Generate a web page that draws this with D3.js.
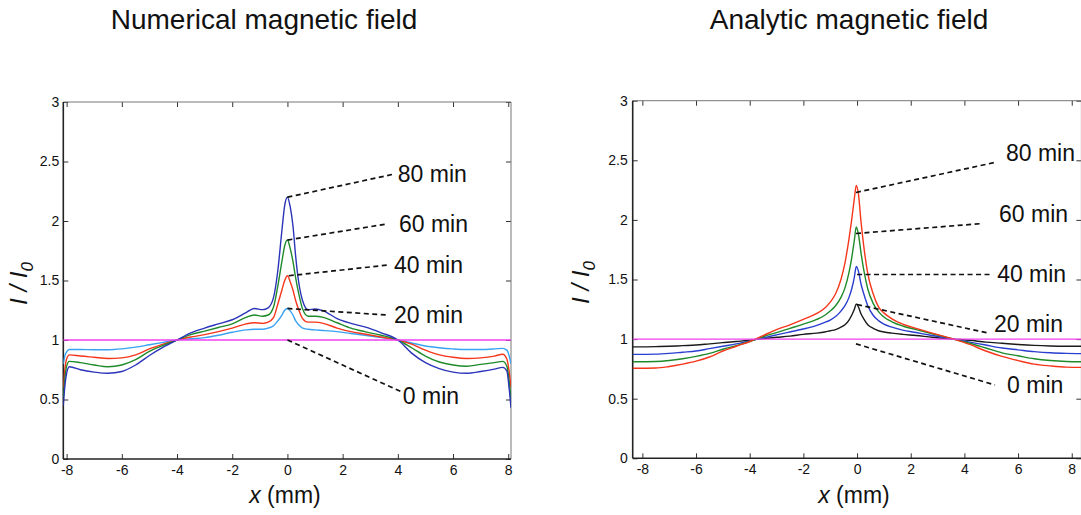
<!DOCTYPE html>
<html>
<head>
<meta charset="utf-8">
<script src="https://cdn.jsdelivr.net/npm/d3@7"></script>
<style>
  html, body { margin: 0; padding: 0; background: #fff; }
  svg { display: block; font-family: "Liberation Sans", Arial, Helvetica, sans-serif; }
  .tick text { font-size: 14px; font-family: "Liberation Sans", Arial, sans-serif; fill: #111; }
</style>
</head>
<body>
<svg id="chart" width="1081" height="515"></svg>
<script>
// ---------- Numerical magnetic field: normalised intensity I/I0 vs x (mm) ----------
const numX = [-8.12, -8.06, -8.0, -7.9, -7.5, -7.0, -6.5, -6.0, -5.5, -5.0, -4.5, -4.0, -3.5, -3.0, -2.5, -2.0,
  -1.5, -1.2, -0.9, -0.7, -0.5, -0.35, -0.2, -0.1, 0, 0.1, 0.2, 0.3, 0.4, 0.55, 0.75, 1.0, 1.3, 1.8, 2.3, 2.8,
  3.4, 4.0, 4.5, 5.0, 5.5, 6.0, 6.5, 7.0, 7.5, 7.8, 7.95, 8.03, 8.1];
const num20 = [0.80, 0.87, 0.90, 0.92, 0.92, 0.918, 0.918, 0.925, 0.94, 0.96, 0.98, 1.0, 1.01, 1.02, 1.04, 1.065,
  1.085, 1.09, 1.09, 1.10, 1.12, 1.16, 1.21, 1.25, 1.265, 1.245, 1.21, 1.16, 1.13, 1.10, 1.09, 1.085, 1.08, 1.07,
  1.055, 1.04, 1.02, 1.0, 0.975, 0.95, 0.935, 0.925, 0.92, 0.92, 0.925, 0.93, 0.915, 0.87, 0.80];
const num40 = [0.60, 0.76, 0.84, 0.875, 0.865, 0.855, 0.845, 0.85, 0.875, 0.925, 0.965, 1.0, 1.025, 1.045, 1.07, 1.10,
  1.135, 1.145, 1.14, 1.15, 1.19, 1.30, 1.42, 1.50, 1.54, 1.49, 1.42, 1.33, 1.26, 1.18, 1.15, 1.15, 1.14, 1.10,
  1.07, 1.05, 1.025, 1.0, 0.965, 0.915, 0.875, 0.855, 0.845, 0.85, 0.865, 0.88, 0.84, 0.74, 0.60];
const num60 = [0.52, 0.68, 0.78, 0.82, 0.81, 0.79, 0.775, 0.79, 0.835, 0.905, 0.955, 1.0, 1.045, 1.075, 1.105, 1.135,
  1.19, 1.21, 1.20, 1.21, 1.28, 1.45, 1.66, 1.79, 1.84, 1.77, 1.66, 1.52, 1.40, 1.26, 1.20, 1.20, 1.19, 1.145,
  1.10, 1.07, 1.04, 1.0, 0.935, 0.865, 0.815, 0.79, 0.78, 0.795, 0.81, 0.82, 0.78, 0.66, 0.50];
const num80 = [0.45, 0.62, 0.72, 0.775, 0.75, 0.73, 0.72, 0.735, 0.79, 0.87, 0.94, 1.0, 1.06, 1.10, 1.135, 1.17,
  1.23, 1.265, 1.255, 1.27, 1.36, 1.58, 1.92, 2.13, 2.20, 2.12, 1.96, 1.70, 1.50, 1.33, 1.255, 1.26, 1.245, 1.18,
  1.14, 1.11, 1.06, 1.0, 0.89, 0.81, 0.76, 0.73, 0.72, 0.735, 0.755, 0.77, 0.74, 0.60, 0.43];
const num0X = [-8.12, 8.1];
const num0 = [1.0, 1.0];

// ---------- Analytic magnetic field ----------
const anaX = [-8.36, -7.5, -7.0, -6.5, -6.0, -5.5, -5.0, -4.5, -4.0, -3.5, -3.0, -2.5, -2.0, -1.5, -1.2, -1.0,
  -0.8, -0.6, -0.45, -0.3, -0.2, -0.1, -0.03, 0.05, 0.15, 0.25, 0.4, 0.6, 0.8, 1.0, 1.3, 1.7, 2.2, 2.8, 3.6,
  4.2, 4.8, 5.4, 6.0, 6.6, 7.2, 7.8, 8.36];
const ana20 = [0.935, 0.937, 0.94, 0.945, 0.95, 0.96, 0.97, 0.98, 0.99, 1.005, 1.015, 1.025, 1.04, 1.05, 1.06, 1.07,
  1.08, 1.10, 1.12, 1.16, 1.20, 1.25, 1.295, 1.27, 1.21, 1.17, 1.12, 1.09, 1.07, 1.06, 1.05, 1.04, 1.03, 1.015, 1.0,
  0.99, 0.975, 0.965, 0.955, 0.947, 0.942, 0.94, 0.94];
const ana40 = [0.872, 0.874, 0.88, 0.89, 0.90, 0.92, 0.94, 0.96, 0.985, 1.01, 1.035, 1.06, 1.085, 1.115, 1.14, 1.16,
  1.19, 1.235, 1.28, 1.35, 1.42, 1.52, 1.61, 1.57, 1.46, 1.38, 1.28, 1.20, 1.155, 1.125, 1.10, 1.075, 1.055, 1.03, 1.0,
  0.975, 0.95, 0.925, 0.91, 0.895, 0.885, 0.88, 0.878];
const ana60 = [0.81, 0.812, 0.82, 0.835, 0.855, 0.88, 0.915, 0.945, 0.98, 1.02, 1.055, 1.09, 1.125, 1.165, 1.20, 1.235,
  1.28, 1.35, 1.43, 1.56, 1.68, 1.83, 1.94, 1.88, 1.72, 1.58, 1.42, 1.30, 1.23, 1.185, 1.145, 1.11, 1.08, 1.045, 1.0,
  0.965, 0.925, 0.885, 0.86, 0.835, 0.82, 0.812, 0.81];
const ana80 = [0.755, 0.757, 0.77, 0.79, 0.815, 0.85, 0.90, 0.94, 0.98, 1.03, 1.08, 1.12, 1.165, 1.215, 1.26, 1.31,
  1.38, 1.50, 1.64, 1.84, 2.00, 2.18, 2.29, 2.22, 1.98, 1.78, 1.55, 1.38, 1.27, 1.22, 1.17, 1.125, 1.09, 1.05, 1.0,
  0.955, 0.90, 0.855, 0.82, 0.79, 0.775, 0.765, 0.763];
const ana0X = [-8.36, 8.36];
const ana0 = [1.0, 1.0];

// Axis ticks
const xTicks = [-8, -6, -4, -2, 0, 2, 4, 6, 8];
const yTicks = [0, 0.5, 1, 1.5, 2, 2.5, 3];

// Time labels with their leader lines (data coordinates: start, end, text anchor)
const numNotes = [
  { label: "80 min", from: [0, 2.20], to: [3.82, 2.392], at: [4.0, 2.328] },
  { label: "60 min", from: [0, 1.84], to: [3.6, 1.975], at: [4.04, 1.908] },
  { label: "40 min", from: [0.05, 1.54], to: [3.64, 1.63], at: [3.86, 1.563] },
  { label: "20 min", from: [0, 1.265], to: [3.6, 1.21], at: [3.86, 1.143] },
  { label: "0 min", from: [0, 1.0], to: [4.15, 0.563], at: [4.18, 0.462] }
];
const anaNotes = [
  { label: "80 min", from: [-0.04, 2.23], to: [5.22, 2.486], at: [5.55, 2.494] },
  { label: "60 min", from: [-0.04, 1.886], to: [4.69, 1.97], at: [5.29, 1.98] },
  { label: "40 min", from: [0, 1.542], to: [5.07, 1.542], at: [5.22, 1.475] },
  { label: "20 min", from: [0, 1.29], to: [4.88, 1.051], at: [5.10, 1.06] },
  { label: "0 min", from: [-0.04, 0.96], to: [5.14, 0.615], at: [5.59, 0.548] }
];

const svg = d3.select("#chart");
const defs = svg.append("defs");

function drawPanel(p) {
  const x = d3.scaleLinear().domain(p.xDomain).range(p.xRange);
  const y = d3.scaleLinear().domain([0, 3]).range(p.yRange);
  const [x0, x1] = p.xRange;
  const [yb, yt] = p.yRange;
  const g = svg.append("g");

  defs.append("clipPath").attr("id", p.id + "-clip")
    .append("rect").attr("x", x0).attr("y", yt).attr("width", x1 - x0).attr("height", yb - yt);

  // Title
  g.append("text").attr("x", p.titleX).attr("y", 29).attr("text-anchor", "middle")
    .attr("font-size", 28).attr("fill", "#111").text(p.title);

  // Axes (ticks pointing inward on all four sides)
  const styleAxis = sel => {
    sel.attr("font-size", null).attr("font-family", null);
    sel.select(".domain").remove();
    sel.selectAll(".tick line").attr("stroke", "#333").attr("stroke-width", 1);
    sel.selectAll(".tick text").style("font-size", "14px").style("fill", "#111");
  };
  g.append("g").attr("transform", `translate(0,${yb})`)
    .call(d3.axisBottom(x).tickValues(xTicks).tickSizeInner(-5).tickSizeOuter(0).tickPadding(6)
      .tickFormat(d => String(d))).call(styleAxis);
  g.append("g").attr("transform", `translate(0,${yt})`)
    .call(d3.axisTop(x).tickValues(xTicks).tickSizeInner(-5).tickSizeOuter(0).tickFormat("")).call(styleAxis);
  g.append("g").attr("transform", `translate(${x0},0)`)
    .call(d3.axisLeft(y).tickValues(yTicks).tickSizeInner(-5).tickSizeOuter(0).tickPadding(p.yPad)
      .tickFormat(d => String(d))).call(styleAxis);
  g.append("g").attr("transform", `translate(${x1},0)`)
    .call(d3.axisRight(y).tickValues(yTicks).tickSizeInner(-5).tickSizeOuter(0).tickFormat("")).call(styleAxis);

  // Frame: heavier left/bottom, lighter top/right
  g.append("line").attr("x1", x0).attr("x2", x1).attr("y1", yt).attr("y2", yt).attr("stroke", "#777").attr("stroke-width", 1);
  g.append("line").attr("x1", x1).attr("x2", x1).attr("y1", yt).attr("y2", yb).attr("stroke", "#777").attr("stroke-width", 1);
  g.append("line").attr("x1", x0).attr("x2", x0).attr("y1", yt).attr("y2", yb).attr("stroke", "#222").attr("stroke-width", 1.6);
  g.append("line").attr("x1", x0).attr("x2", x1).attr("y1", yb).attr("y2", yb).attr("stroke", "#222").attr("stroke-width", 1.6);

  // Curves
  const line = d3.line().x(d => x(d[0])).y(d => y(d[1])).curve(d3.curveMonotoneX);
  const plot = g.append("g").attr("clip-path", `url(#${p.id}-clip)`);
  p.series.forEach(s => {
    plot.append("path").datum(d3.zip(s.xs, s.ys)).attr("d", line)
      .attr("fill", "none").attr("stroke", s.color).attr("stroke-width", 1.4)
      .attr("stroke-linejoin", "round");
  });

  // Leader lines and time labels
  p.notes.forEach(n => {
    g.append("line")
      .attr("x1", x(n.from[0])).attr("y1", y(n.from[1]))
      .attr("x2", x(n.to[0])).attr("y2", y(n.to[1]))
      .attr("stroke", "#111").attr("stroke-width", 1.7).attr("stroke-dasharray", "5,3.5");
    g.append("text").attr("x", x(n.at[0])).attr("y", y(n.at[1]))
      .attr("font-size", 23).attr("fill", "#111").text(n.label);
  });

  // Y label: I / I0
  const yl = g.append("text")
    .attr("transform", `translate(${p.yLabelX},${(yb + yt) / 2 + 3}) rotate(-90)`)
    .attr("text-anchor", "middle").attr("font-size", 24).attr("font-style", "italic").attr("fill", "#111");
  yl.append("tspan").text("I / I");
  yl.append("tspan").attr("font-size", 17).attr("dy", 6).text("0");

  // X label: x (mm)
  const xl = g.append("text").attr("x", p.xLabelX).attr("y", 503).attr("text-anchor", "middle")
    .attr("font-size", 23).attr("fill", "#111");
  xl.append("tspan").attr("font-style", "italic").text("x");
  xl.append("tspan").text(" (mm)");
}

drawPanel({
  id: "numerical",
  title: "Numerical magnetic field",
  titleX: 264,
  xDomain: [-8.12, 8.1], xRange: [63.3, 511],
  yRange: [459, 102],
  yPad: 4,
  yLabelX: 27, xLabelX: 285,
  series: [
    { xs: numX, ys: num20, color: "#3aa2f2" },
    { xs: numX, ys: num40, color: "#f5361b" },
    { xs: numX, ys: num60, color: "#1f8a2a" },
    { xs: numX, ys: num80, color: "#2a34b8" },
    { xs: num0X, ys: num0, color: "#f23ff2" }
  ],
  notes: numNotes
});

drawPanel({
  id: "analytic",
  title: "Analytic magnetic field",
  titleX: 849,
  xDomain: [-8.36, 8.36], xRange: [632.7, 1081.4],
  yRange: [458.3, 100.7],
  yPad: 5,
  yLabelX: 589, xLabelX: 854,
  series: [
    { xs: anaX, ys: ana20, color: "#1a1a1a" },
    { xs: anaX, ys: ana40, color: "#2a3fd0" },
    { xs: anaX, ys: ana60, color: "#1f8a2a" },
    { xs: anaX, ys: ana80, color: "#f5361b" },
    { xs: ana0X, ys: ana0, color: "#f23ff2" }
  ],
  notes: anaNotes
});
</script>
</body>
</html>
